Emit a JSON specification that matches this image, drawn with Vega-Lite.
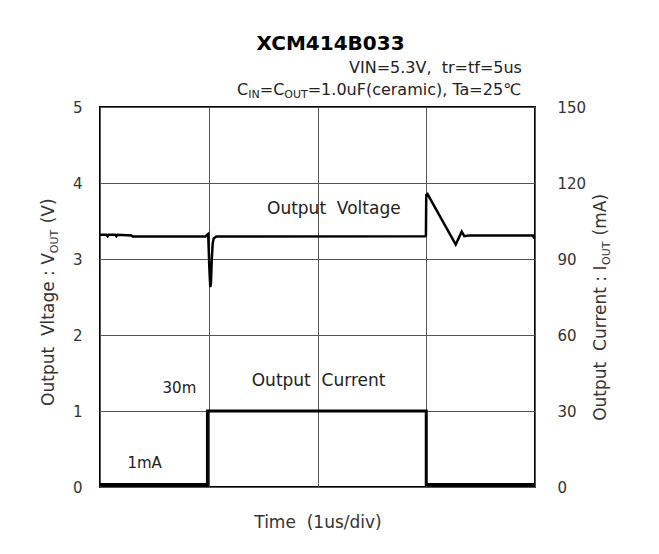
{
  "$schema": "https://vega.github.io/schema/vega-lite/v6.json",
  "width": 435,
  "height": 380,
  "autosize": "none",
  "padding": {"left": 100, "top": 107, "right": 124, "bottom": 67},
  "background": "white",
  "config": {
    "view": {"stroke": "#000", "strokeWidth": 2},
    "font": "DejaVu Sans",
    "axis": {
      "domain": false,
      "ticks": false,
      "labelFont": "DejaVu Sans",
      "labelFontSize": 15,
      "labelColor": "#333",
      "titleFont": "DejaVu Sans",
      "titleFontSize": 17,
      "titleFontWeight": "normal",
      "titleColor": "#333",
      "gridColor": "#555",
      "gridWidth": 1,
      "gridOpacity": 1
    }
  },
  "datasets": {
    "voltage": [
      {"t": 0.0, "v": 3.32}, {"t": 0.06, "v": 3.32}, {"t": 0.07, "v": 3.3}, {"t": 0.08, "v": 3.32},
      {"t": 0.14, "v": 3.32}, {"t": 0.15, "v": 3.3}, {"t": 0.16, "v": 3.32}, {"t": 0.29, "v": 3.31},
      {"t": 0.3, "v": 3.295}, {"t": 0.97, "v": 3.295}, {"t": 0.985, "v": 3.32}, {"t": 0.995, "v": 3.33},
      {"t": 1.005, "v": 2.9}, {"t": 1.014, "v": 2.63}, {"t": 1.02, "v": 2.68}, {"t": 1.028, "v": 3.0},
      {"t": 1.036, "v": 3.2}, {"t": 1.045, "v": 3.27}, {"t": 1.07, "v": 3.295}, {"t": 2.99, "v": 3.3},
      {"t": 2.997, "v": 3.31}, {"t": 3.0, "v": 3.84}, {"t": 3.012, "v": 3.855}, {"t": 3.025, "v": 3.82},
      {"t": 3.271, "v": 3.19}, {"t": 3.326, "v": 3.36}, {"t": 3.35, "v": 3.3}, {"t": 3.375, "v": 3.305},
      {"t": 3.4, "v": 3.31}, {"t": 3.98, "v": 3.31}, {"t": 3.985, "v": 3.295}, {"t": 3.99, "v": 3.31},
      {"t": 4.0, "v": 3.31}
    ],
    "current": [
      {"i": 0, "t": 0.0, "mA": 1}, {"i": 1, "t": 0.988, "mA": 1}, {"i": 2, "t": 0.988, "mA": 30},
      {"i": 3, "t": 3.0, "mA": 30}, {"i": 4, "t": 3.0, "mA": 1}, {"i": 5, "t": 4.0, "mA": 1}
    ],
    "inplot": [
      {"label": "Output\u00a0\u00a0Voltage", "t": 2.15, "v": 3.66},
      {"label": "Output\u00a0\u00a0Current", "t": 2.01, "v": 1.39}
    ],
    "small": [
      {"label": "30m", "t": 0.73, "v": 1.3},
      {"label": "1mA", "t": 0.41, "v": 0.32}
    ],
    "heading": [
      {"label": "XCM414B033", "t": 2.12, "v": 5.75}
    ],
    "subLine1": [
      {"label": "VIN=5.3V,\u00a0\u00a0tr=tf=5us", "t": 3.88, "v": 5.441}
    ],
    "subMain": [
      {"label": "C", "t": 1.26, "v": 5.158},
      {"label": "=C", "t": 1.469, "v": 5.158},
      {"label": "=1.0uF(ceramic),\u00a0Ta=25\u2103", "t": 1.91, "v": 5.158}
    ],
    "subSub": [
      {"label": "IN", "t": 1.363, "v": 5.158},
      {"label": "OUT", "t": 1.695, "v": 5.158}
    ],
    "axTitleMain": [
      {"label": "Output\u00a0\u00a0Vltage\u00a0:\u00a0V", "t": -0.423, "v": 1.067},
      {"label": "(V)", "t": -0.423, "v": 3.47},
      {"label": "Output\u00a0\u00a0Current\u00a0:\u00a0I", "t": 4.653, "v": 0.871},
      {"label": "(mA)", "t": 4.653, "v": 3.31}
    ],
    "axTitleSub": [
      {"label": "OUT", "t": -0.423, "v": 3.076},
      {"label": "OUT", "t": 4.653, "v": 2.922}
    ]
  },
  "layer": [
    {
      "layer": [
        {
          "data": {"name": "voltage"},
          "mark": {"type": "line", "color": "#000", "strokeWidth": 2.5},
          "encoding": {
            "x": {"field": "t", "type": "quantitative", "scale": {"domain": [0, 4]},
              "axis": {"values": [0, 1, 2, 3, 4], "labels": false, "grid": true, "title": "Time\u00a0\u00a0(1us/div)", "titlePadding": 27}},
            "y": {"field": "v", "type": "quantitative", "scale": {"domain": [0, 5]},
              "axis": {"values": [0, 1, 2, 3, 4, 5], "format": "d", "grid": true, "title": null, "labelPadding": 18}}
          }
        },
        {
          "data": {"name": "inplot"},
          "mark": {"type": "text", "fontSize": 17, "color": "#222", "align": "center", "baseline": "middle"},
          "encoding": {
            "x": {"field": "t", "type": "quantitative", "scale": {"domain": [0, 4]}},
            "y": {"field": "v", "type": "quantitative", "scale": {"domain": [0, 5]}},
            "text": {"field": "label"}
          }
        },
        {
          "data": {"name": "small"},
          "mark": {"type": "text", "fontSize": 15, "color": "#222", "align": "center", "baseline": "middle"},
          "encoding": {
            "x": {"field": "t", "type": "quantitative", "scale": {"domain": [0, 4]}},
            "y": {"field": "v", "type": "quantitative", "scale": {"domain": [0, 5]}},
            "text": {"field": "label"}
          }
        },
        {
          "data": {"name": "heading"},
          "mark": {"type": "text", "fontSize": 20, "fontWeight": "bold", "color": "#000", "align": "center", "baseline": "alphabetic"},
          "encoding": {
            "x": {"field": "t", "type": "quantitative", "scale": {"domain": [0, 4]}},
            "y": {"field": "v", "type": "quantitative", "scale": {"domain": [0, 5]}},
            "text": {"field": "label"}
          }
        },
        {
          "data": {"name": "subLine1"},
          "mark": {"type": "text", "fontSize": 16, "color": "#222", "align": "right", "baseline": "alphabetic"},
          "encoding": {
            "x": {"field": "t", "type": "quantitative", "scale": {"domain": [0, 4]}},
            "y": {"field": "v", "type": "quantitative", "scale": {"domain": [0, 5]}},
            "text": {"field": "label"}
          }
        },
        {
          "data": {"name": "subMain"},
          "mark": {"type": "text", "fontSize": 16, "color": "#222", "align": "left", "baseline": "alphabetic"},
          "encoding": {
            "x": {"field": "t", "type": "quantitative", "scale": {"domain": [0, 4]}},
            "y": {"field": "v", "type": "quantitative", "scale": {"domain": [0, 5]}},
            "text": {"field": "label"}
          }
        },
        {
          "data": {"name": "subSub"},
          "mark": {"type": "text", "fontSize": 11, "color": "#222", "align": "left", "baseline": "alphabetic", "dy": 3},
          "encoding": {
            "x": {"field": "t", "type": "quantitative", "scale": {"domain": [0, 4]}},
            "y": {"field": "v", "type": "quantitative", "scale": {"domain": [0, 5]}},
            "text": {"field": "label"}
          }
        },
        {
          "data": {"name": "axTitleMain"},
          "mark": {"type": "text", "fontSize": 17, "color": "#333", "align": "left", "baseline": "alphabetic", "angle": 270},
          "encoding": {
            "x": {"field": "t", "type": "quantitative", "scale": {"domain": [0, 4]}},
            "y": {"field": "v", "type": "quantitative", "scale": {"domain": [0, 5]}},
            "text": {"field": "label"}
          }
        },
        {
          "data": {"name": "axTitleSub"},
          "mark": {"type": "text", "fontSize": 11, "color": "#333", "align": "left", "baseline": "alphabetic", "angle": 270, "dy": 4},
          "encoding": {
            "x": {"field": "t", "type": "quantitative", "scale": {"domain": [0, 4]}},
            "y": {"field": "v", "type": "quantitative", "scale": {"domain": [0, 5]}},
            "text": {"field": "label"}
          }
        }
      ]
    },
    {
      "data": {"name": "current"},
      "mark": {"type": "line", "color": "#000", "strokeWidth": 3},
      "encoding": {
        "x": {"field": "t", "type": "quantitative", "scale": {"domain": [0, 4]}},
        "y": {"field": "mA", "type": "quantitative", "scale": {"domain": [0, 150]},
          "axis": {"orient": "right", "values": [0, 30, 60, 90, 120, 150], "grid": false, "title": null, "labelPadding": 22}},
        "order": {"field": "i", "type": "quantitative"}
      }
    }
  ],
  "resolve": {"scale": {"y": "independent"}}
}
